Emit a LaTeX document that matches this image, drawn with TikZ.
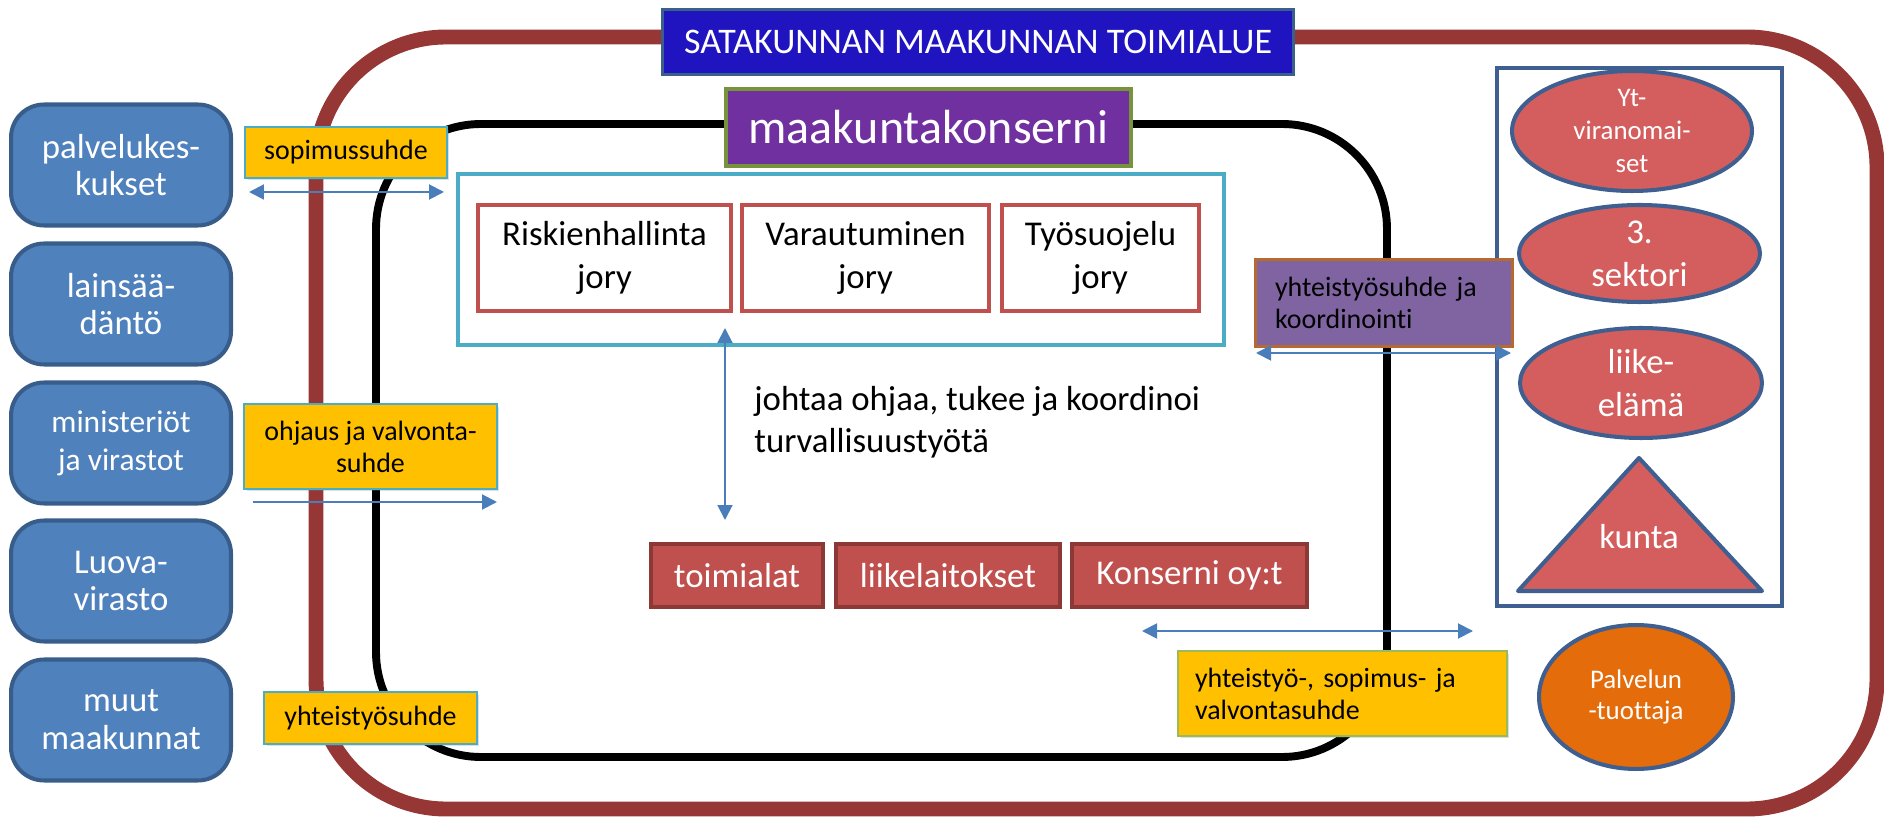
\documentclass[tikz,border=0pt]{standalone}
\usepackage{fontspec}
\setmainfont{Carlito}[Ligatures=CommonOff]
\usetikzlibrary{arrows.meta}
\usetikzlibrary{shapes.geometric}
\usetikzlibrary{shadows}

\definecolor{alueline}{RGB}{150,55,53}
\definecolor{titlefill}{RGB}{31,20,192}
\definecolor{titleline}{RGB}{58,95,139}
\definecolor{sivufill}{RGB}{79,129,189}
\definecolor{sivuline}{RGB}{56,93,138}
\definecolor{suhdefill}{RGB}{255,192,0}
\definecolor{suhdeline}{RGB}{75,172,198}
\definecolor{suhdegreen}{RGB}{155,187,89}
\definecolor{konsernifill}{RGB}{112,48,160}
\definecolor{konserniline}{RGB}{119,147,60}
\definecolor{joryline}{RGB}{192,80,77}
\definecolor{yksikkofill}{RGB}{192,80,77}
\definecolor{yksikkoline}{RGB}{140,56,54}
\definecolor{koordfill}{RGB}{128,100,162}
\definecolor{koordline}{RGB}{182,106,48}
\definecolor{kumppanifill}{RGB}{212,94,94}
\definecolor{kumppaniline}{RGB}{62,95,143}
\definecolor{tuottajafill}{RGB}{228,108,10}
\definecolor{nuolicol}{RGB}{74,126,187}

\begin{document}
\begin{tikzpicture}[x=0.02cm, y=-0.02cm,
    sivu/.style={draw=sivuline, line width=2.3pt, fill=sivufill, rounded corners=0.66cm,
        minimum width=4.4cm, minimum height=2.42cm, inner sep=0pt, text=white, align=center,
        font=\fontsize{19.8}{21.5}\selectfont},
    suhde/.style={draw=suhdeline, line width=1.1pt, fill=suhdefill, inner sep=0pt, align=center,
        font=\fontsize{15.9}{18.2}\selectfont,
        drop shadow={opacity=0.25, shadow xshift=0.05cm, shadow yshift=-0.05cm}},
    jory/.style={draw=joryline, line width=2.3pt, fill=white, minimum height=2.12cm,
        inner sep=0pt, align=center, font=\fontsize{19.8}{24.9}\selectfont},
    yksikko/.style={draw=yksikkoline, line width=2.3pt, fill=yksikkofill, text=white,
        minimum height=1.26cm, inner sep=0pt, font=\fontsize{19.8}{22}\selectfont},
    kumppani/.style={ellipse, draw=kumppaniline, line width=2.3pt, fill=kumppanifill,
        text=white, inner sep=0pt, align=center},
    nuoli/.style={draw=nuolicol, line width=1.1pt, -{Triangle[length=0.3cm, width=0.3cm]}},
    kaksinuoli/.style={nuoli, {Triangle[length=0.3cm, width=0.3cm]}-{Triangle[length=0.3cm, width=0.3cm]}}]
    \useasboundingbox (0,0) rectangle (1884,817);

    \draw[alueline, line width=8.5pt, rounded corners=2.6cm] (316,37) rectangle (1877,809);
    \draw[line width=4.5pt, rounded corners=2.1cm] (376,124) rectangle (1387,757);

    \node[sivu] (palvelu) at (121,165) {palvelukes-\\kukset};
    \node[sivu] (laki) at (121,304) {lainsää-\\däntö};
    \node[sivu, font=\fontsize{17.9}{21.5}\selectfont] (ministeriot) at (121,443) {ministeriöt\\ja virastot};
    \node[sivu] (luova) at (121,581) {Luova-\\virasto};
    \node[sivu] (muut) at (121,720) {muut\\maakunnat};

    \node[draw=titleline, line width=1.7pt, fill=titlefill, text=white, minimum width=12.62cm,
        minimum height=1.3cm, inner sep=0pt, font=\fontsize{20.5}{22}\selectfont]
        (toimialue) at (978,42) {SATAKUNNAN MAAKUNNAN TOIMIALUE};
    \node[draw=konserniline, line width=2.3pt, fill=konsernifill, text=white, minimum width=8.1cm,
        minimum height=1.54cm, inner sep=0pt, font=\fontsize{27.3}{30}\selectfont]
        (konserni) at (928.5,127.5) {maakuntakonserni};

    \node[draw=suhdeline, line width=2.3pt, minimum width=15.32cm, minimum height=3.42cm,
        inner sep=0pt] (jorot) at (841,259.5) {};
    \node[jory, minimum width=5.06cm] (riski) at (604.5,258) {Riskienhallinta\\jory};
    \node[jory, minimum width=4.94cm] (varautuminen) at (865.5,258) {Varautuminen\\jory};
    \node[jory, minimum width=3.94cm] (tyosuojelu) at (1100.5,258) {Työsuojelu\\jory};

    \coordinate (ylos) at (725,328);
    \coordinate (alas) at (725,520);
    \draw[kaksinuoli] (ylos) -- (alas);
    \node[anchor=west, align=left, inner sep=0pt, font=\fontsize{19.8}{23.8}\selectfont]
        (johtaa) at (754,422) {johtaa ohjaa, tukee ja koordinoi\\turvallisuustyötä};

    \node[yksikko, minimum width=3.44cm] (toimialat) at (737,575.5) {toimialat};
    \node[yksikko, minimum width=4.48cm] (liikelaitokset) at (948,575.5) {liikelaitokset};
    \node[yksikko, minimum width=4.7cm] (oyt) at (1189.5,575.5) {Konserni oy:t};

    \node[draw=kumppaniline, line width=2.3pt, minimum width=5.7cm, minimum height=10.76cm,
        inner sep=0pt] (kumppanit) at (1639.5,337) {};
    \node[kumppani, minimum width=4.8cm, minimum height=2.4cm, font=\fontsize{15.3}{18.7}\selectfont]
        (yt) at (1632,131) {Yt-\\viranomai-\\set};
    \node[kumppani, minimum width=4.82cm, minimum height=1.94cm, font=\fontsize{19.8}{24.4}\selectfont]
        (sektori) at (1639.5,253.5) {3.\\sektori};
    \node[kumppani, minimum width=4.84cm, minimum height=2.2cm, font=\fontsize{19.8}{24.4}\selectfont]
        (liike) at (1641,383) {liike-\\elämä};
    \draw[draw=kumppaniline, line width=2.3pt, fill=kumppanifill, line join=round]
        (1639,458) -- (1762,591) -- (1518,591) -- cycle;
    \node[text=white, inner sep=0pt, font=\fontsize{19.8}{22}\selectfont] (kunta) at (1639,537) {kunta};
    \node[kumppani, fill=tuottajafill, minimum width=3.88cm, minimum height=2.88cm,
        font=\fontsize{15.3}{18.1}\selectfont] (tuottaja) at (1636,697) {Palvelun\\-tuottaja};

    \node[draw=koordline, line width=1.7pt, fill=koordfill, minimum width=5.14cm, minimum height=1.74cm,
        inner sep=0pt, align=left, text width=4.36cm, font=\fontsize{15.9}{18.1}\selectfont]
        (koordinointi) at (1384,303) {yhteistyösuhde ja\\koordinointi};
    \coordinate (koordvas) at (1256,353);
    \coordinate (koordoik) at (1511,353);
    \draw[kaksinuoli] (koordvas) -- (koordoik);

    \node[suhde, minimum width=4.04cm, minimum height=1.02cm] (sopimus) at (346,152.5) {sopimussuhde};
    \coordinate (sopvas) at (249,192);
    \coordinate (sopoik) at (444,192);
    \draw[kaksinuoli] (sopvas) -- (sopoik);

    \node[suhde, minimum width=5.06cm, minimum height=1.7cm] (ohjaus) at (370.5,446.5) {ohjaus ja valvonta-\\suhde};
    \coordinate (ohjvas) at (253,502);
    \coordinate (ohjoik) at (497,502);
    \draw[nuoli] (ohjvas) -- (ohjoik);

    \node[suhde, minimum width=4.26cm, minimum height=1.04cm] (yhteistyo) at (370.5,718) {yhteistyösuhde};

    \coordinate (valvvas) at (1142,631);
    \coordinate (valvoik) at (1473,631);
    \draw[kaksinuoli] (valvvas) -- (valvoik);
    \node[suhde, draw=suhdegreen, minimum width=6.58cm, minimum height=1.7cm, align=left, text width=5.9cm]
        (valvonta) at (1342.5,693.5) {yhteistyö-, sopimus- ja\\valvontasuhde};
\end{tikzpicture}
\end{document}
